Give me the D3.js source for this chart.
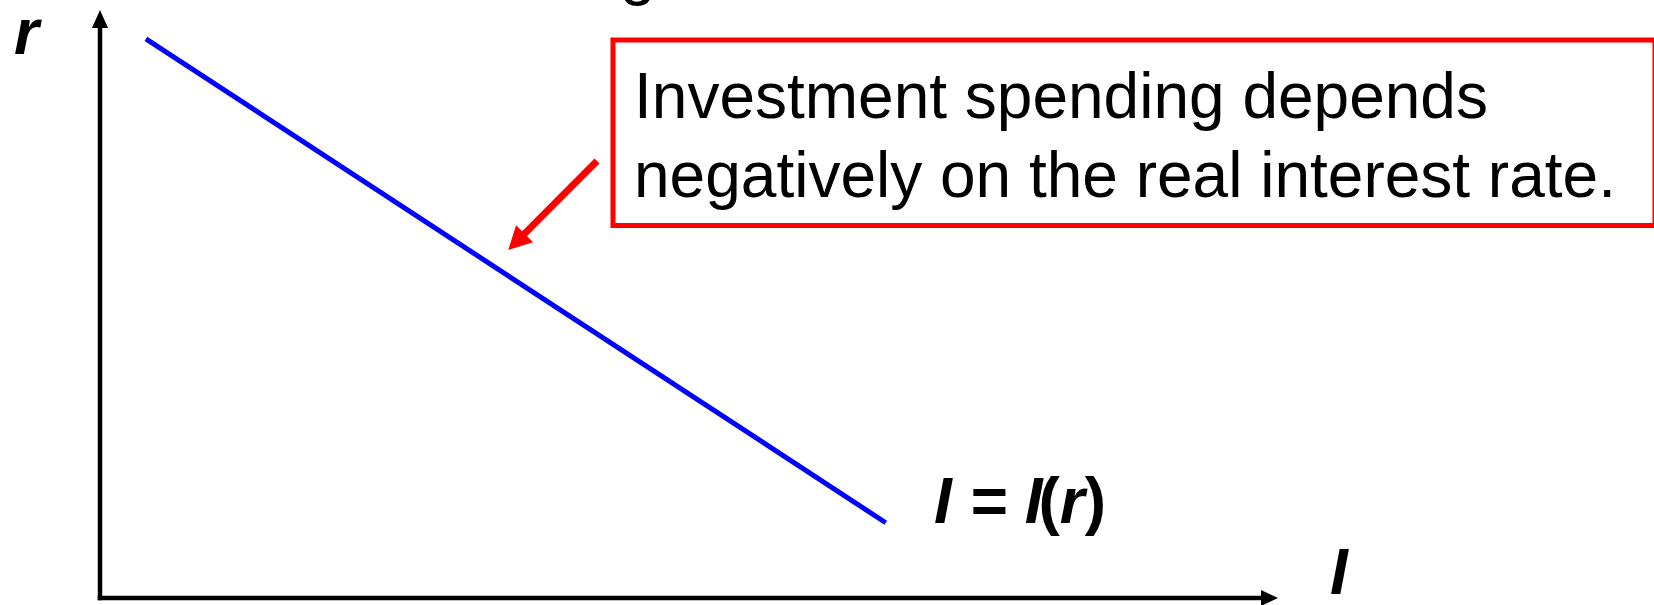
<!DOCTYPE html>
<html>
<head>
<meta charset="utf-8">
<script src="https://cdn.jsdelivr.net/npm/d3@7"></script>
<style>
  html, body { margin: 0; padding: 0; background: #ffffff; }
  svg { display: block; }
  text { font-family: "Liberation Sans", Arial, sans-serif; }
</style>
</head>
<body>
<script>
// Investment schedule I = I(r): a downward-sloping line in (I, r) space.
const investment = [3.9, 66.7];     // I, horizontal axis
const interestRate = [95.1, 12.8];  // r, vertical axis
const axisLabels = { x: "I", y: "r" };
const curveLabel = ["I", " = ", "I", "(", "r", ")"];
const noteLines = ["Investment spending depends", "negatively on the real interest rate."];

const W = 1654, H = 605;
const svg = d3.select("body").append("svg")
  .attr("width", W).attr("height", H)
  .attr("viewBox", `0 0 ${W} ${H}`);

const x = d3.scaleLinear().domain([0, 100]).range([100, 1278]);
const y = d3.scaleLinear().domain([0, 100]).range([598, 10]);

// fragment of a heading that sits above the visible area
svg.append("text")
  .attr("x", 620).attr("y", -7)
  .attr("font-size", 64).attr("fill", "#000")
  .text("g");

// axes: plain lines with filled arrowheads, no ticks
const axisW = 4.5;
svg.append("line")
  .attr("x1", x(0)).attr("y1", y(0) + axisW / 2)
  .attr("x2", x(0)).attr("y2", y(100) + 16)
  .attr("stroke", "#000").attr("stroke-width", axisW);
svg.append("path")
  .attr("d", `M${x(0)},${y(100)} L${x(0) - 8},${y(100) + 18} L${x(0) + 8},${y(100) + 18} Z`)
  .attr("fill", "#000");
svg.append("line")
  .attr("x1", x(0) - axisW / 2).attr("y1", y(0))
  .attr("x2", x(100) - 16).attr("y2", y(0))
  .attr("stroke", "#000").attr("stroke-width", axisW);
svg.append("path")
  .attr("d", `M${x(100)},${y(0)} L${x(100) - 17},${y(0) - 8} L${x(100) - 17},${y(0) + 8} Z`)
  .attr("fill", "#000");

// axis labels
svg.append("text")
  .attr("x", 14).attr("y", 54)
  .attr("font-size", 64).attr("font-weight", "bold").attr("font-style", "italic")
  .attr("fill", "#000")
  .text(axisLabels.y);
svg.append("text")
  .attr("x", 1330).attr("y", 594)
  .attr("font-size", 64).attr("font-weight", "bold").attr("font-style", "italic")
  .attr("fill", "#000")
  .text(axisLabels.x);

// the investment line
const pts = investment.map((v, i) => [v, interestRate[i]]);
svg.append("path")
  .datum(pts)
  .attr("d", d3.line().x(d => x(d[0])).y(d => y(d[1])))
  .attr("fill", "none")
  .attr("stroke", "#0000ff")
  .attr("stroke-width", 5);

// curve label I = I(r), with upright parentheses
const lab = svg.append("text")
  .attr("x", 934).attr("y", 523)
  .attr("font-size", 64).attr("font-weight", "bold").attr("font-style", "italic")
  .attr("fill", "#000");
curveLabel.forEach(s => {
  const paren = s === "(" || s === ")";
  lab.append("tspan")
    .attr("dx", s === "(" ? -4 : 0)
    .attr("font-style", paren ? "normal" : "italic")
    .attr("xml:space", "preserve")
    .style("white-space", "pre")
    .text(s);
});

// annotation box
const box = { x0: 613, y0: 40, x1: 1655, y1: 225.5 };
svg.append("rect")
  .attr("x", box.x0).attr("y", box.y0)
  .attr("width", box.x1 - box.x0).attr("height", box.y1 - box.y0)
  .attr("fill", "none")
  .attr("stroke", "#ff0000")
  .attr("stroke-width", 5);
svg.selectAll("text.note")
  .data(noteLines)
  .join("text")
  .attr("class", "note")
  .attr("x", 634)
  .attr("y", (d, i) => 117.5 + i * 79.5)
  .attr("font-size", 64)
  .attr("fill", "#000")
  .text(d => d);

// pointer from the box to the line
const start = [597, 161], tip = [508.3, 250];
const dx = tip[0] - start[0], dy = tip[1] - start[1];
const len = Math.hypot(dx, dy);
const ux = dx / len, uy = dy / len;
const headLen = 23, headHalf = 12;
const base = [tip[0] - ux * headLen, tip[1] - uy * headLen];
svg.append("line")
  .attr("x1", start[0]).attr("y1", start[1])
  .attr("x2", base[0] + ux * 2).attr("y2", base[1] + uy * 2)
  .attr("stroke", "#ff0000").attr("stroke-width", 7);
svg.append("path")
  .attr("d", `M${tip[0]},${tip[1]} L${base[0] - uy * headHalf},${base[1] + ux * headHalf} L${base[0] + uy * headHalf},${base[1] - ux * headHalf} Z`)
  .attr("fill", "#ff0000");
</script>
</body>
</html>
